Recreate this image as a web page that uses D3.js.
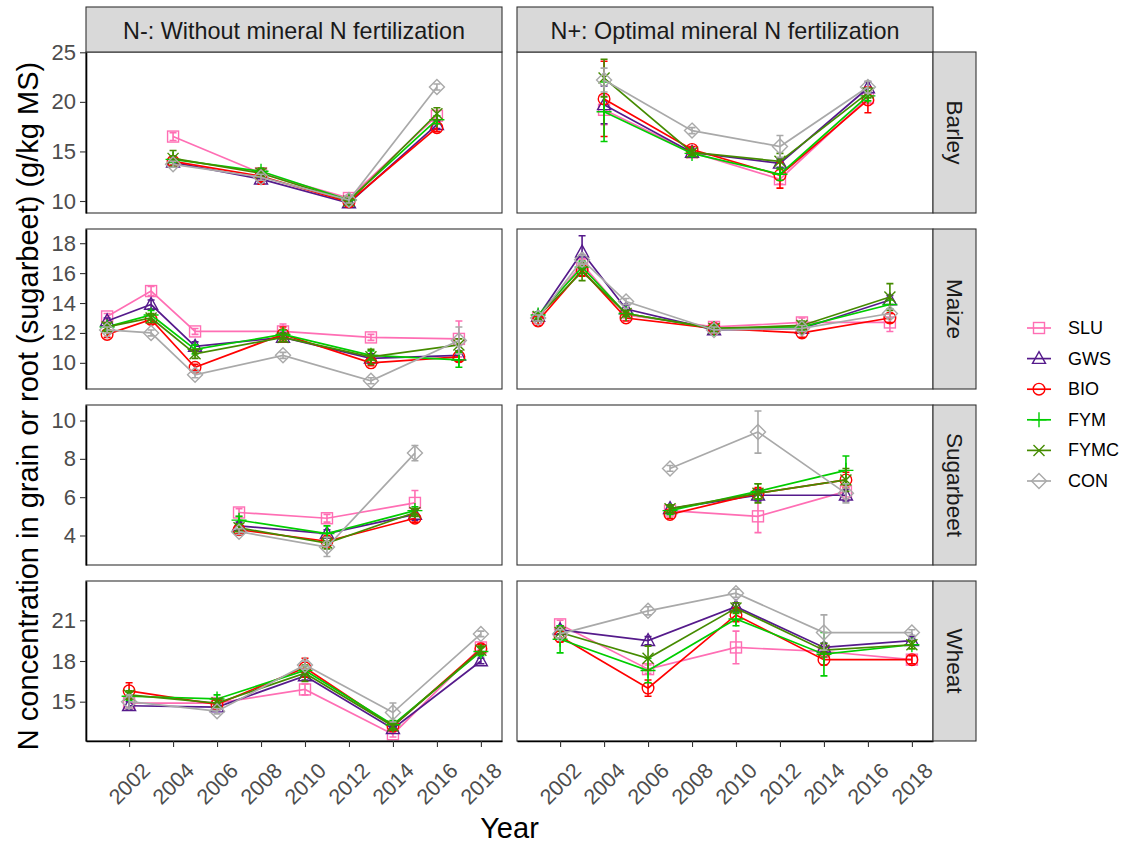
<!DOCTYPE html>
<html><head><meta charset="utf-8">
<script src="https://cdn.jsdelivr.net/npm/d3@7"></script>
<style>body{margin:0;background:#fff} text{font-family:"Liberation Sans",Arial,sans-serif}</style>
</head><body><svg id="c" width="1125" height="845"></svg>
<script>
// ---------------- data ----------------
const series = ["SLU","GWS","BIO","FYM","FYMC","CON"];
const seriesColors = ["#FF6EB4","#551A8B","#FF0000","#00CD00","#458B00","#A9A9A9"];
const seriesShapes = ["square","triangle","circle","plus","cross","diamond"];
const crops = ["Barley","Maize","Sugarbeet","Wheat"];
const treatments = ["N-: Without mineral N fertilization","N+: Optimal mineral N fertilization"];
const xTicks = [2002,2004,2006,2008,2010,2012,2014,2016,2018];
const barleyTicks = [10,15,20,25];
const maizeTicks = [10,12,14,16,18];
const sugarbeetTicks = [4,6,8,10];
const wheatTicks = [15,18,21];
const barleyYears = [2004,2008,2012,2016];
const maizeYears = [2001,2003,2005,2009,2013,2017];
const sugarbeetYears = [2007,2011,2015];
const wheatYears = [2002,2006,2010,2014,2018];

const barleyMinus = {SLU:[16.5,12.8,10.3,18.6],GWS:[13.9,12.2,9.8,17.7],BIO:[14.0,12.5,9.9,17.4],FYM:[14.2,13.0,10.1,18.2],FYMC:[14.3,12.8,10.0,18.8],CON:[13.7,12.4,10.1,21.5]};
const barleyMinusSE = {SLU:[0.4,0.3,0.3,0.5],GWS:[0.3,0.3,0.2,0.4],BIO:[0.4,0.8,0.3,0.4],FYM:[0.3,0.3,0.2,0.4],FYMC:[0.8,0.4,0.3,0.6],CON:[0.3,0.3,0.3,0.3]};
const barleyPlus = {SLU:[19.2,14.9,12.2,20.4],GWS:[19.7,14.9,13.8,21.4],BIO:[20.3,15.2,12.6,20.2],FYM:[19.0,14.8,12.7,20.6],FYMC:[22.4,14.9,14.0,20.9],CON:[22.2,17.1,15.5,21.5]};
const barleyPlusSE = {SLU:[1.5,0.3,0.5,0.5],GWS:[1.9,0.3,0.4,0.6],BIO:[3.8,0.3,1.3,1.3],FYM:[3.0,0.3,0.6,0.5],FYMC:[1.9,0.3,0.8,0.5],CON:[1.2,0.3,1.1,0.6]};

const maizeMinus = {SLU:[13.1,14.8,12.1,12.1,11.7,11.6],GWS:[12.8,13.9,11.1,11.7,10.3,10.5],BIO:[11.9,12.9,9.7,11.9,10.0,10.4],FYM:[12.4,13.2,10.9,11.9,10.5,10.2],FYMC:[12.4,13.0,10.6,11.7,10.4,11.2],CON:[12.2,12.0,9.2,10.5,8.8,11.5]};
const maizeMinusSE = {SLU:[0.2,0.3,0.2,0.5,0.2,1.2],GWS:[0.2,0.3,0.3,0.3,0.3,0.3],BIO:[0.2,0.3,0.2,0.5,0.2,0.3],FYM:[0.2,0.3,0.3,0.3,0.3,0.5],FYMC:[0.3,0.3,0.3,0.3,0.5,0.4],CON:[0.2,0.2,0.2,0.2,0.2,0.9]};
const maizePlus = {SLU:[13.0,16.6,13.2,12.4,12.7,12.7],GWS:[13.1,17.4,13.6,12.2,12.3,14.2],BIO:[12.8,16.2,13.0,12.3,12.0,13.0],FYM:[13.2,16.4,13.3,12.3,12.4,13.9],FYMC:[13.1,16.1,13.3,12.3,12.5,14.4],CON:[13.0,16.9,14.1,12.2,12.3,13.3]};
const maizePlusSE = {SLU:[0.2,0.3,0.2,0.3,0.3,0.6],GWS:[0.2,1.1,0.3,0.2,0.2,0.3],BIO:[0.3,0.4,0.2,0.2,0.3,0.3],FYM:[0.2,0.4,0.2,0.2,0.2,0.3],FYMC:[0.2,0.6,0.2,0.2,0.3,0.9],CON:[0.2,0.3,0.2,0.2,0.2,0.3]};

const sugarbeetMinus = {SLU:[5.2,4.9,5.7],GWS:[4.5,4.1,5.1],BIO:[4.3,3.7,4.9],FYM:[4.8,4.1,5.3],FYMC:[4.4,3.6,5.2],CON:[4.2,3.4,8.3]};
const sugarbeetMinusSE = {SLU:[0.2,0.2,0.65],GWS:[0.2,0.2,0.3],BIO:[0.2,0.3,0.2],FYM:[0.2,0.4,0.2],FYMC:[0.2,0.3,0.2],CON:[0.15,0.5,0.4]};
const sugarbeetPlus = {SLU:[5.3,5.0,6.3],GWS:[5.4,6.1,6.1],BIO:[5.1,6.2,6.9],FYM:[5.3,6.3,7.4],FYMC:[5.4,6.2,6.9],CON:[7.5,9.4,6.2]};
const sugarbeetPlusSE = {SLU:[0.2,0.85,0.4],GWS:[0.2,0.3,0.3],BIO:[0.2,0.3,0.4],FYM:[0.2,0.4,0.75],FYMC:[0.2,0.5,0.6],CON:[0.15,1.1,0.5]};

const wheatMinus = {SLU:[14.9,14.9,15.9,12.6,19.0],GWS:[14.7,14.6,16.9,13.0,18.0],BIO:[15.8,14.8,17.5,13.2,18.9],FYM:[15.4,15.2,17.3,13.3,18.7],FYMC:[15.5,14.9,17.1,13.2,18.8],CON:[15.0,14.3,17.7,14.2,20.0]};
const wheatMinusSE = {SLU:[0.3,0.2,0.4,0.2,0.3],GWS:[0.3,0.2,0.3,0.2,0.2],BIO:[0.6,0.3,0.7,0.3,0.3],FYM:[0.3,0.3,0.3,0.3,0.3],FYMC:[0.3,0.3,0.6,0.3,0.3],CON:[0.5,0.2,0.3,0.7,0.2]};
const wheatPlus = {SLU:[20.7,17.4,19.0,18.7,18.1],GWS:[20.3,19.5,22.0,19.0,19.5],BIO:[19.8,16.0,21.4,18.1,18.1],FYM:[19.6,17.3,21.1,18.5,19.2],FYMC:[20.1,18.2,21.9,18.8,19.2],CON:[20.0,21.7,23.0,20.1,20.1]};
const wheatPlusSE = {SLU:[0.3,0.3,1.2,0.3,0.3],GWS:[0.3,0.3,0.3,0.3,0.3],BIO:[0.4,0.6,0.5,0.4,0.3],FYM:[1.0,0.9,0.5,1.6,0.3],FYMC:[0.4,0.9,0.4,0.5,0.3],CON:[0.3,0.3,0.3,1.3,0.2]};

// ---------------- layout ----------------
const rowsInfo = [
  {years: barleyYears, ticks: barleyTicks, domain:[8.79,25.03], data:[barleyMinus,barleyPlus], se:[barleyMinusSE,barleyPlusSE]},
  {years: maizeYears, ticks: maizeTicks, domain:[8.25,18.95], data:[maizeMinus,maizePlus], se:[maizeMinusSE,maizePlusSE]},
  {years: sugarbeetYears, ticks: sugarbeetTicks, domain:[2.46,10.81], data:[sugarbeetMinus,sugarbeetPlus], se:[sugarbeetMinusSE,sugarbeetPlusSE]},
  {years: wheatYears, ticks: wheatTicks, domain:[12.1,23.9], data:[wheatMinus,wheatPlus], se:[wheatMinusSE,wheatPlusSE]}
];
const colX = [[86,502],[517,933]];
const rowY = [[52,213],[229,389],[405,565],[581,741]];
const xDomain = [2000.04,2018.96];
const stripTop = 7, stripRight = 976;

const svg = d3.select("#c");
const color = d3.scaleOrdinal().domain(series).range(seriesColors);
const shapeOf = d3.scaleOrdinal().domain(series).range(seriesShapes);

function drawShape(g, shape, cx, cy, col) {
  const s = g.append("g").attr("transform", `translate(${cx},${cy})`)
    .attr("fill","none").attr("stroke", col).attr("stroke-width", 1.4);
  if (shape === "square") s.append("rect").attr("x",-5.5).attr("y",-5.5).attr("width",11).attr("height",11);
  else if (shape === "circle") s.append("circle").attr("r",5.8);
  else if (shape === "triangle") s.append("path").attr("d","M0,-7L6.5,4.8L-6.5,4.8Z");
  else if (shape === "diamond") s.append("path").attr("d","M0,-7.5L7.5,0L0,7.5L-7.5,0Z");
  else if (shape === "plus") s.append("path").attr("d","M-7.5,0H7.5M0,-7.5V7.5");
  else if (shape === "cross") s.append("path").attr("d","M-5.5,-5.5L5.5,5.5M-5.5,5.5L5.5,-5.5");
}

rowsInfo.forEach((row, r) => {
  [0,1].forEach(c => {
    const x = d3.scaleLinear().domain(xDomain).range(colX[c]);
    const y = d3.scaleLinear().domain(row.domain).range([rowY[r][1], rowY[r][0]]);
    const g = svg.append("g");
    g.append("rect").attr("x", colX[c][0]).attr("y", rowY[r][0])
      .attr("width", colX[c][1]-colX[c][0]).attr("height", rowY[r][1]-rowY[r][0])
      .attr("fill","#fff");
    const dataObj = row.data[c], seObj = row.se[c];
    const line = d3.line().x(d => x(d.year)).y(d => y(d.v));
    series.forEach(s => {
      const pts = row.years.map((yr,i) => ({year: yr, v: dataObj[s][i], se: seObj[s][i]}));
      const col = color(s);
      pts.forEach(p => {
        const px = x(p.year), y1 = y(p.v + p.se), y2 = y(p.v - p.se);
        g.append("path").attr("d", `M${px},${y1}V${y2}M${px-3.5},${y1}H${px+3.5}M${px-3.5},${y2}H${px+3.5}`)
          .attr("stroke", col).attr("stroke-width",1.6).attr("fill","none");
      });
      g.append("path").datum(pts).attr("d", line).attr("fill","none")
        .attr("stroke", col).attr("stroke-width",1.7);
      pts.forEach(p => drawShape(g, shapeOf(s), x(p.year), y(p.v), col));
    });
    g.append("rect").attr("x", colX[c][0]).attr("y", rowY[r][0])
      .attr("width", colX[c][1]-colX[c][0]).attr("height", rowY[r][1]-rowY[r][0])
      .attr("fill","none").attr("stroke","#333").attr("stroke-width",1.1);
    if (c === 0) {
      const ax = svg.append("g").attr("transform", `translate(${colX[0][0]},0)`)
        .call(d3.axisLeft(y).tickValues(row.ticks).tickSize(6).tickPadding(4).tickSizeOuter(0));
      ax.select(".domain").attr("stroke","#000").attr("stroke-width",1.6);
      ax.selectAll(".tick line").attr("stroke","#333").attr("stroke-width",1.1);
      ax.selectAll(".tick text").attr("fill","#4D4D4D").style("font-size","22px");
    }
    if (r === rowsInfo.length - 1) {
      const ax = svg.append("g").attr("transform", `translate(0,${rowY[r][1]})`)
        .call(d3.axisBottom(x).tickValues(xTicks).tickSize(6).tickSizeOuter(0).tickFormat(d3.format("d")));
      ax.select(".domain").attr("stroke","#000").attr("stroke-width",1.6);
      ax.selectAll(".tick line").attr("stroke","#333").attr("stroke-width",1.1);
      ax.selectAll(".tick text").attr("fill","#4D4D4D").style("font-size","21.5px")
        .attr("y",0).attr("dy",0).attr("text-anchor","middle").attr("dominant-baseline","central")
        .attr("transform","translate(0,43) rotate(-45)");
    }
    if (r === 0) {
      svg.append("rect").attr("x", colX[c][0]).attr("y", stripTop)
        .attr("width", colX[c][1]-colX[c][0]).attr("height", rowY[0][0]-stripTop)
        .attr("fill","#D9D9D9").attr("stroke","#333").attr("stroke-width",1.1);
      svg.append("text").attr("x",(colX[c][0]+colX[c][1])/2).attr("y",(stripTop+rowY[0][0])/2+1)
        .attr("text-anchor","middle").attr("dominant-baseline","central")
        .attr("fill","#1A1A1A").style("font-size","23.4px").text(treatments[c]);
    }
    if (c === 1) {
      svg.append("rect").attr("x", colX[1][1]).attr("y", rowY[r][0])
        .attr("width", stripRight-colX[1][1]).attr("height", rowY[r][1]-rowY[r][0])
        .attr("fill","#D9D9D9").attr("stroke","#333").attr("stroke-width",1.1);
      const cx = (colX[1][1]+stripRight)/2, cy = (rowY[r][0]+rowY[r][1])/2;
      svg.append("text").attr("transform",`translate(${cx},${cy}) rotate(90)`)
        .attr("text-anchor","middle").attr("dominant-baseline","central")
        .attr("fill","#1A1A1A").style("font-size","22.5px").text(crops[r]);
    }
  });
});

svg.append("text").attr("x",(colX[0][0]+colX[1][1])/2).attr("y",838)
  .attr("text-anchor","middle").style("font-size","29px").attr("fill","#000").text("Year");
svg.append("text").attr("transform",`translate(28,406) rotate(-90)`)
  .attr("text-anchor","middle").attr("dominant-baseline","central")
  .style("font-size","29px").attr("fill","#000")
  .text("N concentration in grain or root (sugarbeet) (g/kg MS)");

const legY = d3.scalePoint().domain(series).range([328,481]);
series.forEach(s => {
  const ly = legY(s), col = color(s);
  const lg = svg.append("g");
  lg.append("path").attr("d",`M1027,${ly}H1051`).attr("stroke",col).attr("stroke-width",1.7);
  drawShape(lg, shapeOf(s), 1039, ly, col);
  lg.append("text").attr("x",1068).attr("y",ly).attr("dominant-baseline","central")
    .style("font-size","18px").attr("fill","#000").text(s);
});
</script></body></html>
